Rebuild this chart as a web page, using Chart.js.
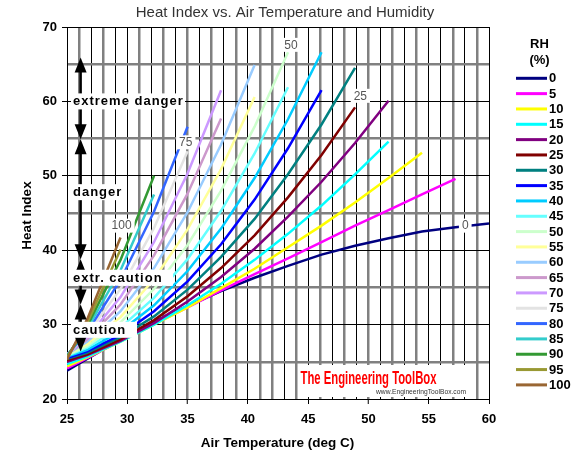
<!DOCTYPE html>
<html>
<head>
<meta charset="utf-8">
<title>Heat Index vs. Air Temperature and Humidity</title>
<script src="https://cdn.jsdelivr.net/npm/chart.js@4.4.0/dist/chart.umd.min.js"></script>
<style>
  html, body { margin: 0; padding: 0; background: #fff; }
  #wrap { width: 581px; height: 473px; position: relative; }
</style>
</head>
<body>
<div id="wrap"><canvas id="heatChart" width="581" height="473"></canvas></div>
<script>
// air temperature points, deg C (77, 80, 85 ... 140 deg F)
const tempC = [25, 26.67, 29.44, 32.22, 35, 37.78, 40.56, 43.33, 46.11, 48.89, 51.67, 54.44, 57.22, 60];

// relative humidity of each curve, %
const rhLevels = [0, 5, 10, 15, 20, 25, 30, 35, 40, 45, 50, 55, 60, 65, 70, 75, 80, 85, 90, 95, 100];

// heat index, deg C
const rh0 = [23.8, 25.4, 28.0, 30.4, 32.5, 34.5, 36.3, 37.9, 39.4, 40.6, 41.6, 42.5, 43.1, 43.6];
const rh5 = [24.1, 25.5, 27.8, 30.1, 32.3, 34.6, 36.8, 38.9, 41.1, 43.3, 45.4, 47.5, 49.6];
const rh10 = [24.4, 25.6, 27.7, 30.0, 32.3, 34.9, 37.5, 40.4, 43.3, 46.4, 49.7, 53.1];
const rh15 = [24.7, 25.7, 27.7, 30.0, 32.6, 35.5, 38.7, 42.2, 46.0, 50.2, 54.6];
const rh20 = [25.0, 25.9, 27.8, 30.2, 33.1, 36.4, 40.2, 44.5, 49.2, 54.4, 60.1];
const rh25 = [25.2, 26.0, 28.0, 30.6, 33.8, 37.6, 42.0, 47.1, 52.8, 59.2];
const rh30 = [25.4, 26.2, 28.3, 31.1, 34.7, 39.1, 44.2, 50.2, 56.9, 64.5];
const rh35 = [25.5, 26.4, 28.6, 31.8, 35.8, 40.8, 46.8, 53.7, 61.5];
const rh40 = [25.7, 26.6, 29.1, 32.6, 37.2, 42.9, 49.7, 57.6, 66.6];
const rh45 = [25.8, 26.9, 29.6, 33.6, 38.8, 45.3, 53.0, 61.9];
const rh50 = [25.9, 27.1, 30.3, 34.8, 40.7, 48.0, 56.6, 66.6];
const rh55 = [26.0, 27.4, 31.0, 36.1, 42.8, 50.9, 60.6];
const rh60 = [26.0, 27.7, 31.8, 37.6, 45.1, 54.2, 64.9];
const rh65 = [26.0, 28.0, 32.7, 39.3, 47.6, 57.7];
const rh70 = [26.0, 28.3, 33.7, 41.1, 50.3, 61.5];
const rh75 = [25.9, 28.7, 34.8, 43.0, 53.3];
const rh80 = [25.9, 29.0, 36.0, 45.2, 56.6];
const rh85 = [25.8, 29.4, 37.3, 47.5];
const rh90 = [25.7, 29.8, 38.7, 50.0];
const rh95 = [25.5, 30.2, 40.1];
const rh100 = [25.3, 30.7, 41.7];

const hiSeries = [rh0, rh5, rh10, rh15, rh20, rh25, rh30, rh35, rh40, rh45, rh50,
  rh55, rh60, rh65, rh70, rh75, rh80, rh85, rh90, rh95, rh100];

// tick values
const xTickLabels = [25, 30, 35, 40, 45, 50, 55, 60];
const yTickLabels = [20, 30, 40, 50, 60, 70];

const rhColors = [
  "#000080", "#ff00ff", "#ffff00", "#00ffff", "#800080", "#800000", "#008080",
  "#0000ff", "#00ccff", "#66ffff", "#ccffcc", "#ffff99", "#99ccff", "#cc99cc",
  "#cc99ff", "#e3e3e3", "#3366ff", "#33cccc", "#339933", "#999933", "#996633"
];

// vertical grid lines that come out grey and thick in the picture
const grayX = [26, 28, 31, 33, 35, 37, 39, 41, 42, 44, 46, 48, 50, 52, 54, 57, 59];

const FONT = "'Liberation Sans', Arial, sans-serif";

const overlayPlugin = {
  id: "overlay",
  afterDraw(chart) {
    const ctx = chart.ctx;
    const xs = chart.scales.x;
    const ys = chart.scales.y;
    const px = (v) => xs.getPixelForValue(v);
    const py = (v) => ys.getPixelForValue(v);

    ctx.save();

    // curve labels with white boxes
    const curveLabels = [
      { text: "100", x: 29.53, y: 43.3 },
      { text: "75", x: 34.85, y: 54.5 },
      { text: "50", x: 43.57, y: 67.6 },
      { text: "25", x: 49.33, y: 60.75 },
      { text: "0", x: 58.03, y: 43.3 },
    ];
    ctx.font = "12px " + FONT;
    ctx.textAlign = "center";
    ctx.textBaseline = "middle";
    curveLabels.forEach((l) => {
      const w = ctx.measureText(l.text).width;
      const cx = px(l.x), cy = py(l.y);
      ctx.fillStyle = "#fff";
      ctx.fillRect(cx - w / 2 - 3, cy - 7, w + 6, 14);
      ctx.fillStyle = "#555";
      ctx.fillText(l.text, cx, cy + 0.5);
    });

    // danger zone arrows
    const ax = px(26.13);
    const bounds = [65.9, 54.9, 38.8, 32.7, 26.4];
    ctx.strokeStyle = "#000";
    ctx.fillStyle = "#000";
    ctx.lineWidth = 2.5;
    function head(yTip, dir) {
      // dir -1: points up, +1: points down
      ctx.beginPath();
      ctx.moveTo(ax, yTip);
      ctx.lineTo(ax - 6, yTip - dir * 15);
      ctx.lineTo(ax + 6, yTip - dir * 15);
      ctx.closePath();
      ctx.fill();
    }
    for (let i = 0; i < bounds.length - 1; i++) {
      const yTop = py(bounds[i]);
      const yBot = py(bounds[i + 1]);
      ctx.beginPath();
      ctx.moveTo(ax, yTop + 10);
      ctx.lineTo(ax, yBot - 10);
      ctx.stroke();
      head(yTop, -1);
      head(yBot, 1);
    }

    const zones = [
      { text: "extreme danger", y: 60, right: 185 },
      { text: "danger", y: 47.8, right: 125 },
      { text: "extr. caution", y: 36.3, right: 173 },
      { text: "caution", y: 29.3, right: 137 },
    ];
    ctx.font = "bold 13px " + FONT;
    ctx.letterSpacing = "1px";
    ctx.textAlign = "left";
    zones.forEach((z) => {
      const cy = py(z.y);
      ctx.fillStyle = "#fff";
      ctx.fillRect(71, cy - 8, z.right - 71, 16);
      ctx.fillStyle = "#000";
      ctx.fillText(z.text, 73, cy + 0.5);
    });
    ctx.letterSpacing = "0px";

    // watermark
    ctx.fillStyle = "#fff";
    ctx.fillRect(298, 365, 174, 32);
    ctx.fillStyle = "#ff0000";
    ctx.font = "bold 18px 'Liberation Sans Narrow', " + FONT;
    ctx.textBaseline = "alphabetic";
    ctx.fillText("The Engineering ToolBox", 300.5, 383.5, 136);
    ctx.fillStyle = "#333";
    ctx.font = "8px " + FONT;
    ctx.fillText("www.EngineeringToolBox.com", 376, 394, 90);

    // chart title
    ctx.textAlign = "center";
    ctx.textBaseline = "middle";
    ctx.fillStyle = "#333";
    ctx.font = "15px " + FONT;
    ctx.fillText("Heat Index vs. Air Temperature and Humidity", 285, 13);

    // axis titles
    ctx.fillStyle = "#000";
    ctx.font = "bold 13.5px " + FONT;
    ctx.fillText("Air Temperature (deg C)", 277.5, 443);
    ctx.save();
    ctx.translate(27.5, 215.5);
    ctx.rotate(-Math.PI / 2);
    ctx.fillText("Heat Index", 0, 0);
    ctx.restore();

    // legend
    ctx.font = "bold 13px " + FONT;
    ctx.fillText("RH", 539.5, 44);
    ctx.fillText("(%)", 539.5, 60);
    ctx.textAlign = "left";
    chart.data.datasets.forEach((ds, i) => {
      const ly = 78.3 + i * 15.33;
      ctx.strokeStyle = ds.borderColor;
      ctx.lineWidth = 3;
      ctx.beginPath();
      ctx.moveTo(516, ly);
      ctx.lineTo(547, ly);
      ctx.stroke();
      ctx.fillStyle = "#000";
      ctx.fillText(ds.label, 549, ly + 0.5);
    });

    ctx.restore();
  },
};

const datasets = rhLevels.map((rh, i) => ({
  label: String(rh),
  data: hiSeries[i],
  borderColor: rhColors[i],
  backgroundColor: rhColors[i],
  borderWidth: 2.5,
  pointRadius: 0,
  pointHoverRadius: 0,
  tension: 0,
  fill: false,
  order: -i, // later series on top
}));

const ctx = document.getElementById("heatChart").getContext("2d");
const heatChart = new Chart(ctx, {
  type: "line",
  data: {
    labels: tempC,
    datasets: datasets,
  },
  options: {
    responsive: false,
    devicePixelRatio: 1,
    animation: false,
    layout: { padding: { top: 27, right: 92, left: 0, bottom: 0 } },
    plugins: {
      legend: { display: false },
      title: { display: false },
      tooltip: { enabled: false },
    },
    scales: {
      x: {
        type: "linear",
        min: 25,
        max: 60,
        ticks: {
          stepSize: 1,
          autoSkip: false,
          maxRotation: 0,
          padding: 8,
          color: "#000",
          font: { family: FONT, size: 13, weight: "bold" },
          callback: (v) => (xTickLabels.includes(v) ? v : ""),
        },
        grid: {
          color: (c) => (grayX.includes(c.tick.value) ? "#808080" : "#000"),
          lineWidth: (c) => (grayX.includes(c.tick.value) ? 2.5 : 1),
          tickLength: 5,
          tickWidth: 1,
          tickColor: (c) => (xTickLabels.includes(c.tick.value) ? "#000" : "rgba(0,0,0,0)"),
        },
        border: { color: "#000", width: 1 },
        afterFit: (s) => { s.height = 74; },
      },
      y: {
        min: 20,
        max: 70,
        ticks: {
          stepSize: 5,
          padding: 5,
          color: "#000",
          font: { family: FONT, size: 13, weight: "bold" },
          callback: (v) => (yTickLabels.includes(v) ? v : ""),
        },
        grid: {
          color: (c) => (c.tick.value % 10 === 0 ? "#000" : "#808080"),
          lineWidth: (c) => (c.tick.value % 10 === 0 ? 1 : 2.5),
          tickLength: 5,
          tickWidth: 1,
          tickColor: (c) => (yTickLabels.includes(c.tick.value) ? "#000" : "rgba(0,0,0,0)"),
        },
        border: { color: "#000", width: 1 },
        afterFit: (s) => { s.width = 67; },
      },
    },
  },
  plugins: [overlayPlugin],
});
</script>
</body>
</html>
